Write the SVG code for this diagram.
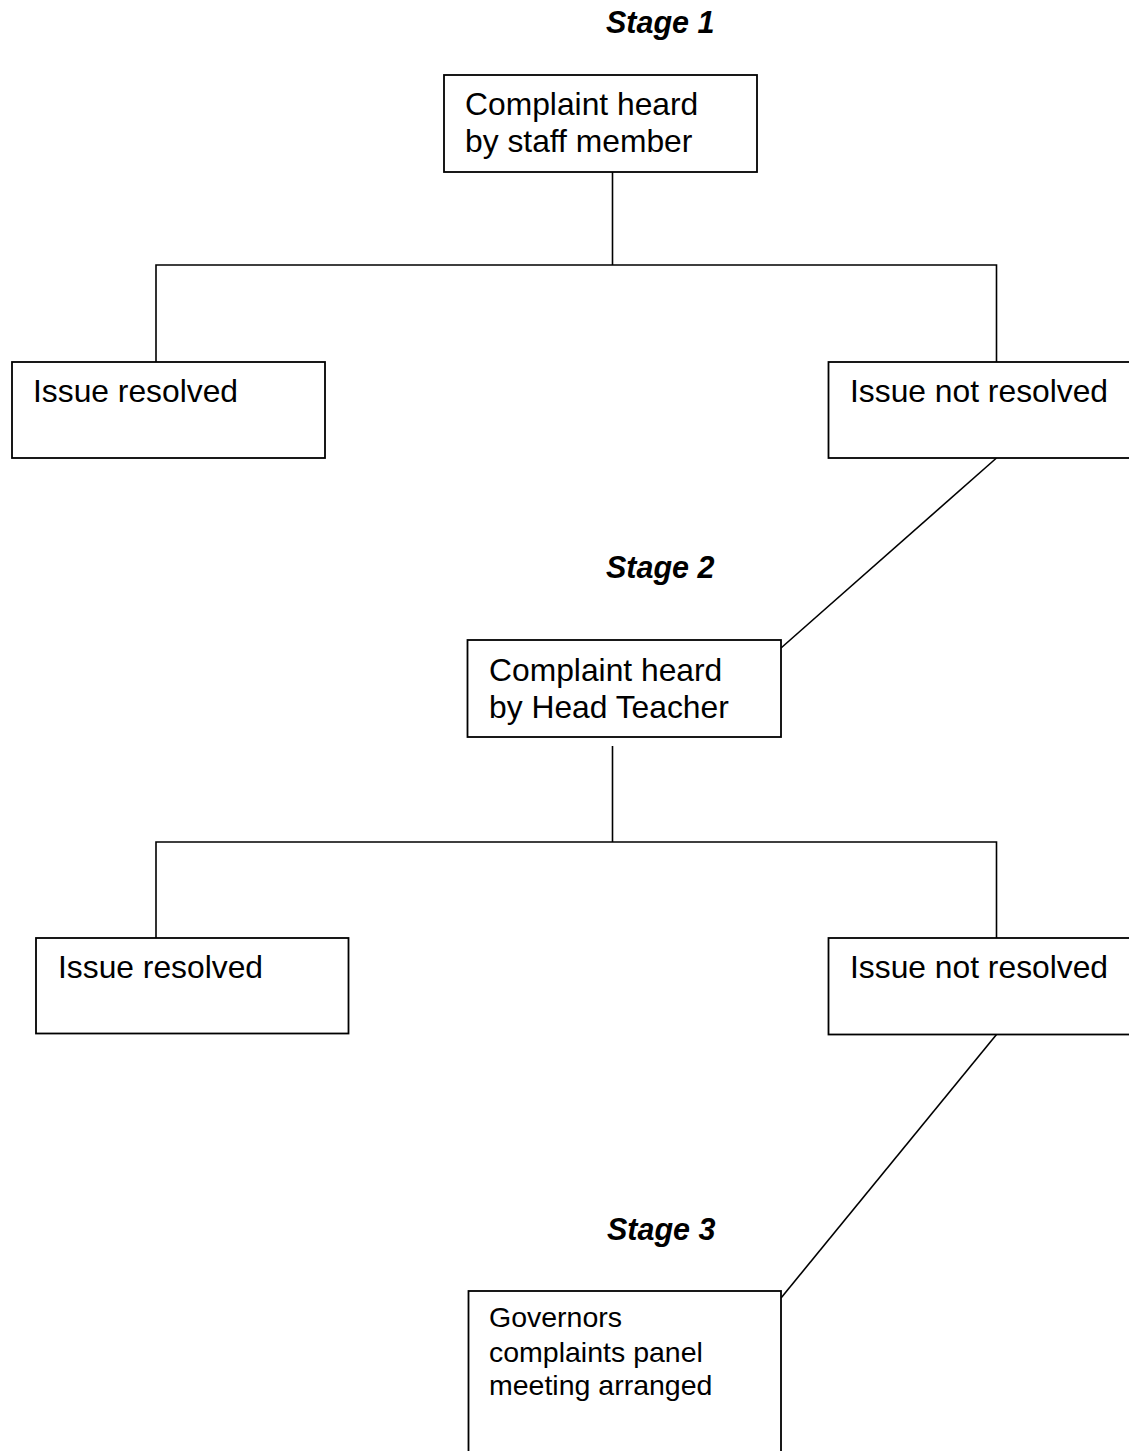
<svg xmlns="http://www.w3.org/2000/svg" width="1129" height="1451" viewBox="0 0 1129 1451">
<style>
.box{fill:#fff;stroke:#000;stroke-width:1.8}
.ln{fill:none;stroke:#000;stroke-width:1.6}
.t{font-family:"Liberation Sans",Arial,sans-serif;font-size:31.8px;fill:#000}
.s{font-family:"Liberation Sans",Arial,sans-serif;font-size:30.5px;font-weight:bold;font-style:italic;fill:#000}
.g{font-family:"Liberation Sans",Arial,sans-serif;font-size:28.5px;fill:#000}
</style>
<rect width="1129" height="1451" fill="#fff"/>
<g id="connectors">
<polyline class="ln" points="612.5,172 612.5,265"/>
<polyline class="ln" points="156,362 156,265 996.5,265 996.5,362"/>
<line class="ln" x1="996.5" y1="458" x2="781" y2="648"/>
<polyline class="ln" points="612.5,746 612.5,842"/>
<polyline class="ln" points="156,938 156,842 996.5,842 996.5,938"/>
<line class="ln" x1="996.5" y1="1034.5" x2="781" y2="1298"/>
</g>
<g id="stage1"><text class="s" x="606" y="33">Stage 1</text></g>
<g id="stage2"><text class="s" x="606" y="578">Stage 2</text></g>
<g id="stage3"><text class="s" x="607" y="1240">Stage 3</text></g>
<g id="n1">
<rect class="box" x="444" y="75" width="313" height="97"/>
<text class="t" x="465" y="115">Complaint heard</text>
<text class="t" x="465" y="152">by staff member</text>
</g>
<g id="n2">
<rect class="box" x="12" y="362" width="313" height="96"/>
<text class="t" x="33" y="402">Issue resolved</text>
</g>
<g id="n3">
<rect class="box" x="828.5" y="362" width="320" height="96"/>
<text class="t" x="850" y="402">Issue not resolved</text>
</g>
<g id="n4">
<rect class="box" x="467.5" y="640" width="313.5" height="97"/>
<text class="t" x="489" y="681">Complaint heard</text>
<text class="t" x="489" y="718">by Head Teacher</text>
</g>
<g id="n5">
<rect class="box" x="36" y="938" width="312.5" height="95.5"/>
<text class="t" x="58" y="978">Issue resolved</text>
</g>
<g id="n6">
<rect class="box" x="828.5" y="938" width="320" height="96.5"/>
<text class="t" x="850" y="978">Issue not resolved</text>
</g>
<g id="n7">
<rect class="box" x="468.5" y="1291" width="312.5" height="200"/>
<text class="g" x="489" y="1327">Governors</text>
<text class="g" x="489" y="1362">complaints panel</text>
<text class="g" x="489" y="1395">meeting arranged</text>
</g>
</svg>
